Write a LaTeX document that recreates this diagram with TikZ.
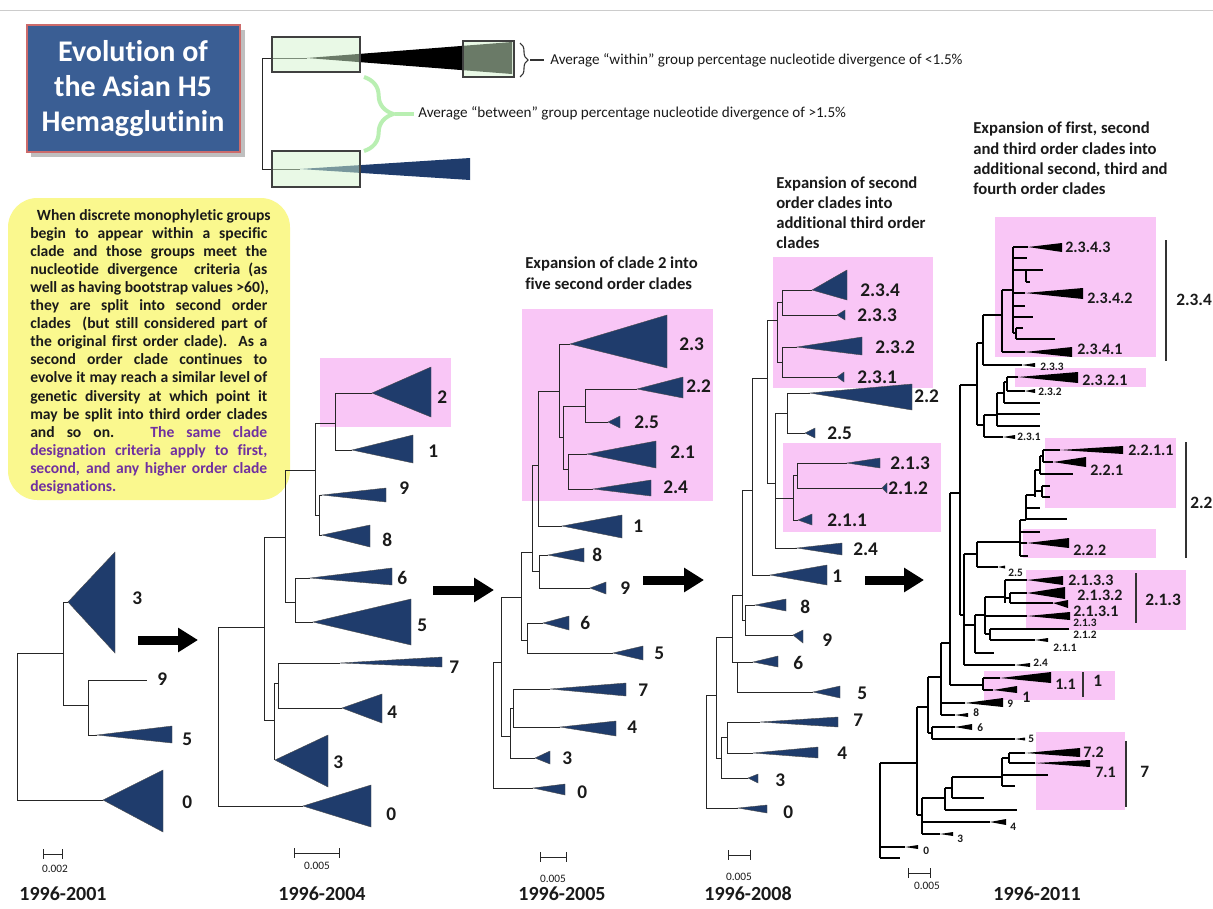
\documentclass[tikz,border=0pt]{standalone}
\usepackage{fontspec}
\setmainfont{Carlito}[Ligatures=NoCommon]
\usetikzlibrary{arrows.meta,decorations.pathreplacing}
\definecolor{navy}{HTML}{1F3C6C}
\definecolor{pinkbox}{HTML}{F9C6F6}
\definecolor{ybox}{HTML}{FAF88E}
\definecolor{titleblue}{HTML}{3A5E94}
\definecolor{lgreen}{HTML}{D4F4CE}
\definecolor{bracegreen}{HTML}{B9EFB2}
\definecolor{purp}{HTML}{7030A0}
\definecolor{ink}{HTML}{1A1A1A}
\newcounter{lc}
\newcommand\lab[4]{\stepcounter{lc}\node[#1] (lab\arabic{lc}) at (#2,#3) {#4};}
\newcommand\HB[3]{\draw[br] (#1,#3) -- (#2,#3);}
\newcommand\VB[3]{\draw[br] (#1,#2) -- (#1,#3);}
\newcommand\tri[5]{\filldraw[tri] (#1,#2) -- (#3,#4) -- (#3,#5) -- cycle;}
\newcommand\btri[5]{\fill[btri] (#1,#2) -- (#3,#4) -- (#3,#5) -- cycle;}
\newcommand\yl[1]{\hbox to 177.75pt{\spaceskip=0.23em plus 1fil\xspaceskip=0.23em plus 1fil\relax #1}}
\begin{document}
\begin{tikzpicture}[x=0.75pt,y=-0.75pt,
  br/.style={black!85,line width=0.75pt},
  tri/.style={fill=navy,draw=black!70,line width=0.3pt},
  btri/.style={fill=black},
  lbl/.style={anchor=west,inner sep=0pt,text=ink,font=\fontsize{14.5}{17}\selectfont\bfseries},
  big5/.style={anchor=west,inner sep=0pt,text=ink,font=\fontsize{12}{14}\selectfont\bfseries},
  sm5/.style={anchor=west,inner sep=0pt,text=ink,font=\fontsize{8.5}{10}\selectfont\bfseries},
  brl/.style={anchor=west,inner sep=0pt,text=ink,font=\fontsize{13}{15}\selectfont\bfseries},
  yearl/.style={inner sep=0pt,text=ink,font=\fontsize{15}{17}\selectfont\bfseries},
  scl/.style={inner sep=0pt,text=ink,font=\fontsize{8.5}{10}\selectfont},
  headl/.style={anchor=base west,inner sep=0pt,text=ink,font=\fontsize{12.5}{15}\selectfont\bfseries},
  legl/.style={anchor=west,inner sep=0pt,text=ink,font=\fontsize{11.35}{13}\selectfont},
  ytx/.style={anchor=base west,inner sep=0pt,text=ink,font=\fontsize{11.7}{13.6}\selectfont\bfseries},
  pinkf/.style={fill=pinkbox},
  gbox/.style={fill=lgreen,fill opacity=0.5,draw=black!75,line width=0.8pt},
  bigarr/.style={line width=6.75pt,-{Triangle[length=15pt,width=17.5pt]}},
  brk/.style={black!80,line width=1pt}
]
\useasboundingbox (0,0) rectangle (1213,908);
\fill[white] (0,0) rectangle (1213,908);
\draw[black!20,line width=0.75pt] (0,10) -- (1213,10);

% ---------- title ----------
\fill[black!25] (31,30) rectangle (245,157);
\filldraw[fill=titleblue,draw=red!30!pink!80!black,line width=1pt] (27,25) rectangle (240,152);
\node[text=white,align=center,inner sep=0pt,font=\fontsize{22.5}{26.25}\selectfont\bfseries] (title) at (133,89) {Evolution of\\the Asian H5\\Hemagglutinin};

% ---------- legend ----------
\coordinate (lgtop) at (262,58);
\coordinate (lgbot) at (262,169);
\draw[br] (lgtop) -- (lgbot);
\draw[br] (lgtop) -- (307,58);
\draw[br] (lgbot) -- (300,169);
\fill[black] (307,58) -- (512,42) -- (512,74) -- cycle;
\fill[navy] (300,169) -- (470,158) -- (470,180) -- cycle;
\draw[gbox] (272,37) rectangle (360,72);
\draw[gbox] (463,41) rectangle (514,77);
\draw[gbox] (272,151) rectangle (360,187);
\draw[black!80,line width=0.8pt,decorate,decoration={brace,amplitude=6pt}] (520,43) -- (520,77);
\draw[black!80,line width=0.8pt] (530,60) -- (544,60);
\node[legl] (within) at (550,60) {Average “within” group percentage nucleotide divergence of <1.5\%};
\draw[bracegreen,line width=3pt,decorate,decoration={brace,amplitude=22pt}] (364,77) -- (364,151);
\draw[bracegreen,line width=2.5pt] (395,114) -- (414,114);
\node[legl] (between) at (418,113) {Average “between” group percentage nucleotide divergence of >1.5\%};

% ---------- yellow box ----------
\fill[ybox,rounded corners=22pt] (8,198) rectangle (290,500);
\node[ytx] (y1) at (30,220.0) {\yl{\hspace*{5pt}When discrete monophyletic groups}};
\node[ytx] (y2) at (30,238.1) {\yl{begin to appear within a specific}};
\node[ytx] (y3) at (30,256.2) {\yl{clade and those groups meet the}};
\node[ytx] (y4) at (30,274.3) {\yl{nucleotide divergence\ \ criteria (as}};
\node[ytx] (y5) at (30,292.4) {\yl{well as having bootstrap values >60),}};
\node[ytx] (y6) at (30,310.5) {\yl{they are split into second order}};
\node[ytx] (y7) at (30,328.6) {\yl{clades\ \ (but still considered part of}};
\node[ytx] (y8) at (30,346.7) {\yl{the original first order clade).\ \ As a}};
\node[ytx] (y9) at (30,364.8) {\yl{second order clade continues to}};
\node[ytx] (y10) at (30,382.9) {\yl{evolve it may reach a similar level of}};
\node[ytx] (y11) at (30,401.0) {\yl{genetic diversity at which point it}};
\node[ytx] (y12) at (30,419.1) {\yl{may be split into third order clades}};
\node[ytx] (y13) at (30,437.2) {\yl{and so on.\ \ \ \textcolor{purp}{The same clade}}};
\node[ytx,text=purp] (y14) at (30,455.3) {\yl{designation criteria apply to first,}};
\node[ytx,text=purp] (y15) at (30,473.4) {\yl{second, and any higher order clade}};
\node[ytx,text=purp] (y16) at (30,491.5) {designations.};

% ---------- pink boxes ----------
\fill[pinkf] (320,358) rectangle (451,427);
\fill[pinkf] (522,309) rectangle (713,501);
\fill[pinkf] (773,257) rectangle (933,388);
\fill[pinkf] (783,443) rectangle (941,532);
\fill[pinkf] (995,217) rectangle (1156,357);
\fill[pinkf] (1015,368) rectangle (1146,387);
\fill[pinkf] (1045,438) rectangle (1176,508);
\fill[pinkf] (1023,529) rectangle (1156,558);
\fill[pinkf] (1026,570) rectangle (1186,630);
\fill[pinkf] (984,671) rectangle (1115,700);
\fill[pinkf] (1036,732) rectangle (1125,810);

% ---------- tree 1 (1996-2001) ----------
\VB{17}{653}{800}
\HB{17}{63}{653}
\VB{63}{602}{705}
\HB{63}{68}{602} \tri{68}{602}{115}{552}{653}
\HB{63}{88}{705}
\VB{88}{680}{735}
\HB{88}{147}{680}
\HB{88}{97}{735} \tri{97}{735}{172}{726}{743}
\HB{17}{103}{800} \tri{103}{800}{163}{770}{832}
\lab{lbl}{132}{598}{3}
\lab{lbl}{157}{679}{9}
\lab{lbl}{182}{739}{5}
\lab{lbl}{182}{802}{0}
\draw[br] (43,854) -- (62,854) (43,849) -- (43,859) (62,849) -- (62,859);
\lab{scl}{55}{869}{0.002}
\lab{yearl}{63}{894}{1996-2001}
\coordinate (a1s) at (138,640); \coordinate (a1e) at (198,640);
\draw[bigarr] (a1s) -- (a1e);

% ---------- tree 2 (1996-2004) ----------
\VB{218}{627}{806}
\HB{218}{303}{806} \tri{303}{806}{371}{785}{827}
\HB{218}{264}{627}
\VB{264}{537}{720}
\HB{264}{274}{720}
\VB{274}{683}{760}
\HB{274}{278}{683}
\VB{278}{663}{708}
\HB{278}{340}{663} \tri{340}{663}{442}{657}{667}
\HB{278}{342}{708} \tri{342}{708}{382}{694}{723}
\tri{275}{760}{328}{735}{787}
\HB{264}{285}{537}
\VB{285}{470}{602}
\HB{285}{295}{602}
\VB{295}{578}{622}
\HB{295}{310}{578} \tri{310}{578}{392}{568}{585}
\HB{295}{313}{622} \tri{313}{622}{411}{599}{645}
\HB{285}{315}{470}
\VB{315}{423}{515}
\HB{315}{335}{423}
\VB{335}{393}{450}
\HB{335}{372}{393} \tri{372}{393}{431}{367}{417}
\HB{335}{352}{450} \tri{352}{450}{413}{435}{463}
\HB{315}{319}{515}
\VB{319}{495}{535}
\HB{319}{322}{495} \tri{322}{495}{386}{488}{502}
\HB{319}{322}{535} \tri{322}{535}{370}{525}{547}
\lab{lbl}{437}{397}{2}
\lab{lbl}{428}{451}{1}
\lab{lbl}{399}{488}{9}
\lab{lbl}{382}{540}{8}
\lab{lbl}{397}{578}{6}
\lab{lbl}{417}{625}{5}
\lab{lbl}{449}{667}{7}
\lab{lbl}{387}{712}{4}
\lab{lbl}{333}{762}{3}
\lab{lbl}{386}{814}{0}
\draw[br] (294,853) -- (339,853) (294,848) -- (294,858) (339,848) -- (339,858);
\lab{scl}{317}{866}{0.005}
\lab{yearl}{322}{894}{1996-2004}
\coordinate (a2s) at (433,590); \coordinate (a2e) at (494,590);
\draw[bigarr] (a2s) -- (a2e);

% ---------- tree 3 (1996-2005) ----------
\node[headl] (h3a) at (525,268) {Expansion of clade 2 into};
\node[headl] (h3b) at (525,289) {five second order clades};
\VB{493}{662}{788}
\HB{493}{533}{788} \tri{533}{788}{565}{784}{795}
\HB{493}{501}{662}
\VB{501}{597}{736}
\HB{501}{510}{736}
\VB{510}{708}{758}
\HB{510}{513}{708}
\VB{513}{689}{727}
\HB{513}{550}{689} \tri{550}{689}{626}{683}{696}
\HB{513}{560}{727} \tri{560}{727}{616}{721}{736}
\HB{510}{535}{758} \tri{535}{758}{550}{751}{764}
\HB{501}{521}{597}
\VB{521}{552}{640}
\HB{521}{527}{640}
\VB{527}{623}{653}
\HB{527}{543}{623} \tri{543}{623}{569}{616}{630}
\HB{527}{613}{653} \tri{613}{653}{643}{646}{660}
\HB{521}{532}{552}
\VB{532}{465}{571}
\HB{532}{539}{571}
\VB{539}{555}{588}
\HB{539}{548}{555} \tri{548}{555}{584}{548}{562}
\HB{539}{590}{588} \tri{590}{588}{606}{582}{594}
\HB{532}{538}{465}
\VB{538}{391}{526}
\HB{538}{562}{526} \tri{562}{526}{622}{515}{538}
\HB{538}{559}{391}
\VB{559}{344}{437}
\HB{559}{570}{344} \tri{570}{344}{667}{315}{368}
\HB{559}{563}{437}
\VB{563}{406}{469}
\HB{563}{585}{406}
\VB{585}{389}{422}
\HB{585}{637}{389} \tri{637}{389}{683}{377}{398}
\HB{585}{608}{422} \tri{608}{422}{620}{416}{428}
\HB{563}{568}{469}
\VB{568}{454}{489}
\HB{568}{587}{454} \tri{587}{454}{656}{441}{468}
\HB{568}{593}{489} \tri{593}{489}{651}{480}{496}
\lab{lbl}{679}{344}{2.3}
\lab{lbl}{686}{386}{2.2}
\lab{lbl}{634}{422}{2.5}
\lab{lbl}{670}{452}{2.1}
\lab{lbl}{663}{487}{2.4}
\lab{lbl}{633}{526}{1}
\lab{lbl}{592}{555}{8}
\lab{lbl}{620}{588}{9}
\lab{lbl}{580}{623}{6}
\lab{lbl}{654}{653}{5}
\lab{lbl}{638}{690}{7}
\lab{lbl}{627}{727}{4}
\lab{lbl}{562}{758}{3}
\lab{lbl}{577}{792}{0}
\draw[br] (540,857) -- (566,857) (540,852) -- (540,862) (566,852) -- (566,862);
\lab{scl}{553}{879}{0.005}
\lab{yearl}{562}{894}{1996-2005}
\coordinate (a3s) at (643,580); \coordinate (a3e) at (704,580);
\draw[bigarr] (a3s) -- (a3e);

% ---------- tree 4 (1996-2008) ----------
\node[headl] (h4a) at (776,188) {Expansion of second};
\node[headl] (h4b) at (776,208) {order clades into};
\node[headl] (h4c) at (776,228) {additional third order};
\node[headl] (h4d) at (776,248) {clades};
\VB{706}{695}{808}
\HB{706}{738}{808} \tri{738}{808}{767}{805}{813}
\HB{706}{716}{695}
\VB{716}{637}{758}
\HB{716}{721}{758}
\VB{721}{737}{778}
\HB{721}{748}{778} \tri{748}{778}{758}{774}{783}
\HB{721}{727}{737}
\VB{727}{722}{753}
\HB{727}{760}{722} \tri{760}{722}{838}{717}{727}
\HB{727}{753}{753} \tri{753}{753}{818}{747}{758}
\HB{716}{732}{637}
\VB{732}{595}{662}
\HB{732}{737}{662}
\VB{737}{662}{692}
\HB{737}{753}{662} \tri{753}{662}{778}{656}{667}
\HB{737}{813}{692} \tri{813}{692}{840}{686}{698}
\HB{732}{742}{595}
\VB{742}{490}{620}
\HB{742}{745}{620}
\VB{745}{605}{635}
\HB{745}{755}{605} \tri{755}{605}{786}{599}{611}
\HB{745}{793}{635} \tri{793}{635}{803}{630}{643}
\HB{742}{752}{490}
\VB{752}{378}{575}
\HB{752}{770}{575} \tri{770}{575}{827}{565}{585}
\HB{752}{767}{378}
\VB{767}{320}{483}
\HB{767}{777}{320}
\VB{777}{302}{362}
\HB{777}{782}{302}
\VB{782}{290}{315}
\HB{782}{812}{290} \tri{812}{290}{847}{270}{300}
\HB{782}{837}{315} \tri{837}{315}{845}{310}{320}
\HB{777}{782}{362}
\VB{782}{347}{377}
\HB{782}{797}{347} \tri{797}{347}{862}{337}{355}
\HB{782}{837}{377} \tri{837}{377}{844}{372}{382}
\HB{767}{775}{483}
\VB{775}{413}{548}
\HB{775}{787}{413}
\VB{787}{393}{433}
\HB{787}{810}{393} \tri{810}{393}{912}{384}{410}
\HB{787}{805}{433} \tri{805}{433}{815}{428}{438}
\HB{775}{797}{548} \tri{797}{548}{842}{543}{555}
\HB{775}{793}{498}
\VB{793}{475}{520}
\HB{793}{798}{520} \tri{798}{520}{812}{514}{525}
\HB{793}{797}{475}
\VB{797}{463}{488}
\HB{797}{847}{463} \tri{847}{463}{880}{458}{468}
\HB{797}{882}{488} \tri{882}{488}{887}{483}{493}
\lab{lbl}{860}{290}{2.3.4}
\lab{lbl}{857}{315}{2.3.3}
\lab{lbl}{875}{347}{2.3.2}
\lab{lbl}{857}{377}{2.3.1}
\lab{lbl}{914}{396}{2.2}
\lab{lbl}{827}{433}{2.5}
\lab{lbl}{890}{463}{2.1.3}
\lab{lbl}{888}{488}{2.1.2}
\lab{lbl}{827}{520}{2.1.1}
\lab{lbl}{853}{549}{2.4}
\lab{lbl}{832}{576}{1}
\lab{lbl}{800}{607}{8}
\lab{lbl}{822}{640}{9}
\lab{lbl}{793}{663}{6}
\lab{lbl}{857}{693}{5}
\lab{lbl}{853}{720}{7}
\lab{lbl}{837}{753}{4}
\lab{lbl}{775}{780}{3}
\lab{lbl}{783}{812}{0}
\draw[br] (728,855) -- (750,855) (728,850) -- (728,860) (750,850) -- (750,860);
\lab{scl}{739}{877}{0.005}
\lab{yearl}{748}{894}{1996-2008}
\coordinate (a4s) at (865,580); \coordinate (a4e) at (924,580);
\draw[bigarr] (a4s) -- (a4e);

% ---------- tree 5 (1996-2011) ----------
\node[headl] (h5a) at (973,133) {Expansion of first, second};
\node[headl] (h5b) at (973,154) {and third order clades into};
\node[headl] (h5c) at (973,174) {additional second, third and};
\node[headl] (h5d) at (973,194) {fourth order clades};
\begin{scope}[br/.style={black,line width=0.85pt}]
\VB{880}{763}{858}
\HB{880}{917}{763}
\HB{880}{905}{847} \btri{905}{847}{918}{845}{849}
\HB{880}{900}{858}
\VB{917}{707}{815}
\HB{917}{922}{815}
\VB{922}{798}{834}
\HB{922}{990}{822} \btri{990}{822}{1006}{819}{825}
\HB{922}{940}{834} \btri{940}{834}{953}{832}{836}
\HB{922}{945}{798}
\VB{945}{788}{810}
\HB{945}{1017}{810}
\HB{945}{952}{788}
\VB{952}{777}{798}
\HB{952}{984}{798}
\HB{952}{1002}{777}
\VB{1002}{758}{786}
\HB{1002}{1048}{775}
\HB{1002}{1015}{786}
\HB{1002}{1009}{758}
\VB{1009}{753}{763}
\HB{1009}{1025}{753} \btri{1025}{753}{1080}{748}{757}
\HB{1009}{1035}{763} \btri{1035}{763}{1090}{760}{767}
\HB{917}{928}{707}
\VB{928}{677}{733}
\HB{928}{932}{733}
\VB{932}{727}{739}
\HB{932}{955}{727} \btri{955}{727}{972}{724}{730}
\HB{932}{1015}{739} \btri{1015}{739}{1025}{737.5}{740.5}
\HB{928}{941}{677}
\VB{941}{643}{715}
\HB{941}{965}{703} \btri{965}{703}{1003}{698}{707}
\HB{941}{955}{715} \btri{955}{715}{968}{713}{717}
\HB{941}{950}{643}
\VB{950}{493}{685}
\HB{950}{983}{685}
\VB{983}{678}{690}
\HB{983}{1000}{678} \btri{1000}{678}{1051}{672}{683}
\HB{983}{993}{690} \btri{993}{690}{1017}{686}{693}
\HB{950}{960}{493}
\VB{960}{385}{615}
\HB{960}{964}{615}
\VB{964}{554}{665}
\HB{964}{1015}{665} \btri{1015}{665}{1030}{663}{667}
\HB{964}{977}{554}
\VB{977}{542}{567}
\HB{977}{998}{567} \btri{998}{567}{1005}{565.5}{568.5}
\HB{977}{1020}{542}
\VB{1020}{520}{556}
\HB{1020}{1040}{532}
\HB{1020}{1027}{543} \btri{1027}{543}{1069}{538}{548}
\HB{1020}{1028}{556}
\HB{1020}{1026}{520}
\VB{1026}{495}{520}
\HB{1026}{1067}{519}
\HB{1026}{1040}{508}
\HB{1026}{1035}{495}
\VB{1035}{470}{497}
\HB{1035}{1042}{491}
\VB{1042}{486}{497}
\HB{1042}{1050}{486}
\HB{1042}{1050}{497}
\HB{1035}{1040}{470}
\VB{1040}{456}{474}
\HB{1040}{1073}{474}
\HB{1040}{1043}{456}
\VB{1043}{450}{462}
\HB{1043}{1060}{450} \btri{1060}{450}{1123}{446}{454}
\HB{1043}{1053}{462} \btri{1053}{462}{1086}{457}{467}
\HB{964}{975}{625}
\VB{975}{615}{653}
\HB{975}{994}{653}
\HB{975}{985}{615}
\VB{985}{597}{634}
\HB{985}{1005}{597}
\VB{1005}{580}{603}
\HB{1005}{1027}{580} \btri{1027}{580}{1063}{576}{585}
\HB{1005}{1010}{598}
\VB{1010}{593}{603}
\HB{1010}{1027}{593} \btri{1027}{593}{1065}{587}{599}
\HB{1010}{1053}{603} \btri{1053}{603}{1068}{600}{608}
\HB{985}{1027}{616} \btri{1027}{616}{1070}{612}{620}
\HB{985}{990}{634}
\VB{990}{629}{640}
\HB{990}{1069}{629}
\HB{990}{1035}{640} \btri{1035}{640}{1048}{638}{642}
\HB{960}{977}{385}
\VB{977}{343}{425}
\HB{977}{983}{343}
\VB{983}{315}{365}
\HB{983}{1022}{365} \btri{1022}{365}{1035}{363}{367}
\HB{983}{1002}{315}
\VB{1002}{290}{352}
\HB{1002}{1025}{352} \btri{1025}{352}{1072}{347}{357}
\HB{1002}{1013}{290}
\VB{1013}{247}{333}
\HB{1013}{1028}{247} \btri{1028}{247}{1062}{243}{252}
\HB{1013}{1027}{258}
\HB{1013}{1026}{270}
\VB{1026}{270}{282}
\HB{1026}{1043}{270}
\HB{1026}{1030}{282}
\HB{1013}{1025}{293} \btri{1025}{293}{1083}{288}{299}
\HB{1013}{1025}{306}
\HB{1013}{1033}{317}
\HB{1013}{1016}{333}
\VB{1016}{328}{339}
\HB{1016}{1023}{328}
\HB{1016}{1055}{339}
\HB{977}{984}{425}
\VB{984}{415}{437}
\HB{984}{1003}{437} \btri{1003}{437}{1015}{435}{439}
\HB{984}{997}{415}
\VB{997}{393}{426}
\HB{997}{1040}{426}
\HB{997}{1040}{414}
\HB{997}{1004}{393}
\VB{1004}{382}{403}
\HB{1004}{1040}{403}
\HB{1004}{1007}{382}
\VB{1007}{377}{391}
\HB{1007}{1018}{377} \btri{1018}{377}{1078}{372}{383}
\HB{1007}{1025}{391} \btri{1025}{391}{1035}{389}{393}
\end{scope}
% brackets
\draw[brk] (1166,240) -- (1166,361);
\draw[brk] (1186,442) -- (1186,558);
\draw[brk] (1136,573) -- (1136,623);
\draw[brk] (1083,672) -- (1083,697);
\draw[brk] (1126,741) -- (1126,807);
\lab{brl}{1176}{300}{2.3.4}
\lab{brl}{1190}{503}{2.2}
\lab{brl}{1145}{600}{2.1.3}
\lab{brl}{1093}{681}{1}
\lab{brl}{1140}{772}{7}
% big labels
\lab{big5}{1065}{247}{2.3.4.3}
\lab{big5}{1087}{298}{2.3.4.2}
\lab{big5}{1077}{349}{2.3.4.1}
\lab{big5}{1082}{380}{2.3.2.1}
\lab{big5}{1128}{450}{2.2.1.1}
\lab{big5}{1090}{470}{2.2.1}
\lab{big5}{1073}{550}{2.2.2}
\lab{big5}{1068}{580}{2.1.3.3}
\lab{big5}{1077}{595}{2.1.3.2}
\lab{big5}{1073}{611}{2.1.3.1}
\lab{big5}{1055}{684}{1.1}
\lab{big5}{1022}{697}{1}
\lab{big5}{1083}{752}{7.2}
\lab{big5}{1095}{772}{7.1}
% small labels
\lab{sm5}{1040}{367}{2.3.3}
\lab{sm5}{1038}{392}{2.3.2}
\lab{sm5}{1017}{437}{2.3.1}
\lab{sm5}{1008}{573}{2.5}
\lab{sm5}{1073}{623}{2.1.3}
\lab{sm5}{1073}{635}{2.1.2}
\lab{sm5}{1053}{648}{2.1.1}
\lab{sm5}{1033}{663}{2.4}
\lab{sm5}{1007}{704}{9}
\lab{sm5}{973}{713}{8}
\lab{sm5}{977}{728}{6}
\lab{sm5}{1028}{739}{5}
\lab{sm5}{1010}{827}{4}
\lab{sm5}{957}{839}{3}
\lab{sm5}{923}{851}{0}
\draw[br] (908,873) -- (930,873) (908,868) -- (908,878) (930,868) -- (930,878);
\lab{scl}{927}{886}{0.005}
\lab{yearl}{1037}{894}{1996-2011}
\end{tikzpicture}
\end{document}
